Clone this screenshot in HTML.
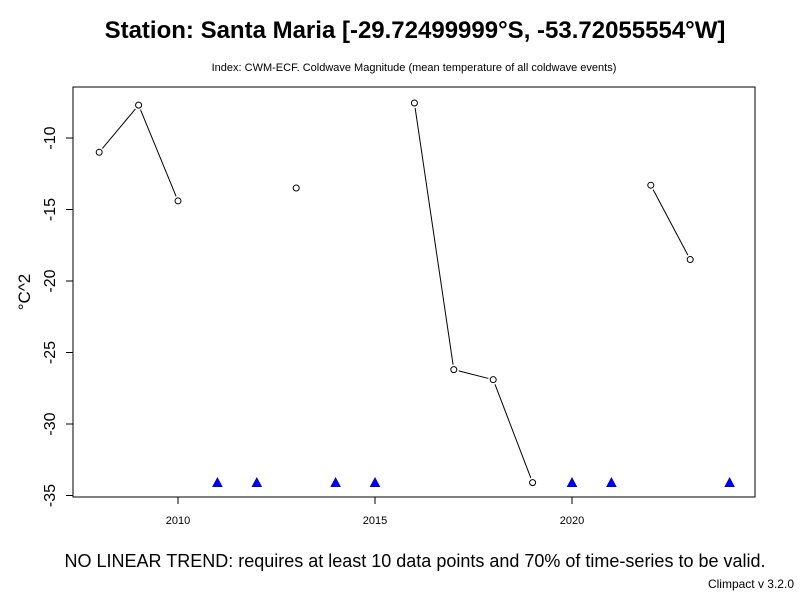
<!DOCTYPE html>
<html><head><meta charset="utf-8"><style>
body{margin:0;background:#fff;}
svg{display:block;font-family:"Liberation Sans",Arial,sans-serif;}
</style></head><body>
<svg id="chart" width="800" height="600">
<text x="415" y="38" text-anchor="middle" font-size="24" font-weight="bold">Station: Santa Maria [-29.72499999°S, -53.72055554°W]</text>
<text x="414" y="71" text-anchor="middle" font-size="11">Index: CWM-ECF. Coldwave Magnitude (mean temperature of all coldwave events)</text>
<rect x="73" y="87" width="682" height="410" fill="none" stroke="#000"/>
<text transform="translate(30,292) rotate(-90)" text-anchor="middle" font-size="17">°C^2</text>
<text x="415" y="567" text-anchor="middle" font-size="18">NO LINEAR TREND: requires at least 10 data points and 70% of time-series to be valid.</text>
<text x="794" y="588" text-anchor="end" font-size="12">Climpact v 3.2.0</text>
<g id="axes"></g><g id="marks"></g>
</svg>
<script>
const years=[2008,2009,2010,2011,2012,2013,2014,2015,2016,2017,2018,2019,2020,2021,2022,2023,2024];
const values=[-11.0,-7.7,-14.4,null,null,-13.5,null,null,-7.55,-26.2,-26.9,-34.1,null,null,-13.3,-18.5,null];
const missingValue=-34.2;
const xTicks=[2010,2015,2020];
const yTicks=[-10,-15,-20,-25,-30,-35];
const xs=y=>178+(y-2010)*39.4;
const ys=v=>138+(-10-v)*14.3;
const NS="http://www.w3.org/2000/svg";
const ax=document.getElementById('axes'),mk=document.getElementById('marks');
function el(t,a,p){const e=document.createElementNS(NS,t);for(const k in a)e.setAttribute(k,a[k]);p.appendChild(e);return e;}
let l=el('line',{x1:xs(xTicks[0]),x2:xs(xTicks[xTicks.length-1]),y1:497,y2:497,stroke:'#000'},ax);
xTicks.forEach(t=>{
 let tk=el('line',{x1:xs(t),x2:xs(t),y1:497,y2:504,stroke:'#000'},ax);
 
 
 let tx=el('text',{x:xs(t),y:524,'text-anchor':'middle','font-size':11},ax);tx.textContent=t;
 
 
});
yTicks.forEach(t=>{
 let tk=el('line',{x1:66,x2:73,y1:ys(t),y2:ys(t),stroke:'#000'},ax);
 
 
 let tx=el('text',{transform:`translate(55,${ys(t)}) rotate(-90)`,'text-anchor':'middle','font-size':16},ax);tx.textContent=t;
 
 
});
for(let i=0;i<years.length-1;i++){
 if(values[i]==null||values[i+1]==null)continue;
 const x1=xs(years[i]),y1=ys(values[i]),x2=xs(years[i+1]),y2=ys(values[i+1]);
 const d=Math.hypot(x2-x1,y2-y1),g=5/d;
 let ln=el('line',{x1:x1+(x2-x1)*g,y1:y1+(y2-y1)*g,x2:x2-(x2-x1)*g,y2:y2-(y2-y1)*g,stroke:'#000'},mk);
 
 
}
years.forEach((y,i)=>{
 if(values[i]!=null){
  let c=el('circle',{cx:xs(y),cy:ys(values[i]),r:3,fill:'#fff',stroke:'#000'},mk);
  
  
 } else {
  const x=xs(y),yy=ys(missingValue)-1;
  let p=el('polygon',{points:`${x},${yy-5} ${x-4.5},${yy+3.5} ${x+4.5},${yy+3.5}`,fill:'#0000ff',stroke:'#0000cc'},mk);
  
  
 }
});
</script>
</body></html>
